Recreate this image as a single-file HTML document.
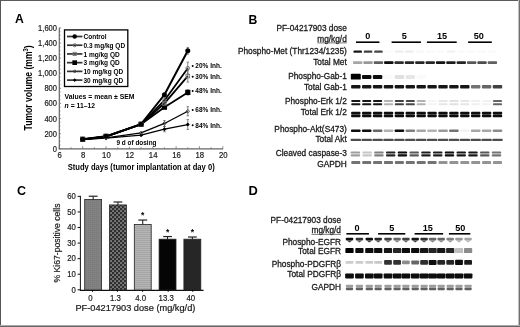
<!DOCTYPE html>
<html><head><meta charset="utf-8"><title>PF-04217903 figure</title><style>
html,body{margin:0;padding:0;background:#fff}
body{width:520px;height:327px;overflow:hidden}
svg{display:block;will-change:transform}
text{font-family:"Liberation Sans",sans-serif}
.h{stroke:#1a1a1a;stroke-width:0.3px}
.h2{stroke:#1a1a1a;stroke-width:0.2px}
</style></head><body>
<svg width="520" height="327" viewBox="0 0 520 327">
<defs>
<filter id="bl" x="-10%" y="-50%" width="120%" height="200%"><feGaussianBlur stdDeviation="0.55"/></filter>
<pattern id="p1" width="2" height="2" patternUnits="userSpaceOnUse"><rect width="2" height="2" fill="#828282"/><rect width="1" height="1" fill="#787878"/></pattern>
<pattern id="p2" x="84" y="190" width="4" height="4" patternUnits="userSpaceOnUse"><rect width="4" height="4" fill="#2e2e2e"/><rect x="0.3" y="0.3" width="1.5" height="1.5" fill="#a8a8a8"/><rect x="2.3" y="2.3" width="1.5" height="1.5" fill="#a8a8a8"/></pattern>
<pattern id="p3" width="2" height="2" patternUnits="userSpaceOnUse"><rect width="2" height="2" fill="#b4b4b4"/><rect width="2" height="1" fill="#a6a6a6"/></pattern>
</defs>
<rect width="520" height="327" fill="#fff"/>
<text x="15.00" y="23.40" font-size="12.2" font-weight="bold" >A</text>
<line x1="59.30" y1="27.84" x2="59.30" y2="148.80" stroke="#666" stroke-width="1.2" />
<line x1="59.30" y1="148.80" x2="61.10" y2="148.80" stroke="#666" stroke-width="0.7" />
<line x1="59.30" y1="145.02" x2="60.50" y2="145.02" stroke="#666" stroke-width="0.7" />
<line x1="59.30" y1="141.24" x2="60.50" y2="141.24" stroke="#666" stroke-width="0.7" />
<line x1="59.30" y1="137.46" x2="60.50" y2="137.46" stroke="#666" stroke-width="0.7" />
<line x1="59.30" y1="133.68" x2="61.10" y2="133.68" stroke="#666" stroke-width="0.7" />
<line x1="59.30" y1="129.90" x2="60.50" y2="129.90" stroke="#666" stroke-width="0.7" />
<line x1="59.30" y1="126.12" x2="60.50" y2="126.12" stroke="#666" stroke-width="0.7" />
<line x1="59.30" y1="122.34" x2="60.50" y2="122.34" stroke="#666" stroke-width="0.7" />
<line x1="59.30" y1="118.56" x2="61.10" y2="118.56" stroke="#666" stroke-width="0.7" />
<line x1="59.30" y1="114.78" x2="60.50" y2="114.78" stroke="#666" stroke-width="0.7" />
<line x1="59.30" y1="111.00" x2="60.50" y2="111.00" stroke="#666" stroke-width="0.7" />
<line x1="59.30" y1="107.22" x2="60.50" y2="107.22" stroke="#666" stroke-width="0.7" />
<line x1="59.30" y1="103.44" x2="61.10" y2="103.44" stroke="#666" stroke-width="0.7" />
<line x1="59.30" y1="99.66" x2="60.50" y2="99.66" stroke="#666" stroke-width="0.7" />
<line x1="59.30" y1="95.88" x2="60.50" y2="95.88" stroke="#666" stroke-width="0.7" />
<line x1="59.30" y1="92.10" x2="60.50" y2="92.10" stroke="#666" stroke-width="0.7" />
<line x1="59.30" y1="88.32" x2="61.10" y2="88.32" stroke="#666" stroke-width="0.7" />
<line x1="59.30" y1="84.54" x2="60.50" y2="84.54" stroke="#666" stroke-width="0.7" />
<line x1="59.30" y1="80.76" x2="60.50" y2="80.76" stroke="#666" stroke-width="0.7" />
<line x1="59.30" y1="76.98" x2="60.50" y2="76.98" stroke="#666" stroke-width="0.7" />
<line x1="59.30" y1="73.20" x2="61.10" y2="73.20" stroke="#666" stroke-width="0.7" />
<line x1="59.30" y1="69.42" x2="60.50" y2="69.42" stroke="#666" stroke-width="0.7" />
<line x1="59.30" y1="65.64" x2="60.50" y2="65.64" stroke="#666" stroke-width="0.7" />
<line x1="59.30" y1="61.86" x2="60.50" y2="61.86" stroke="#666" stroke-width="0.7" />
<line x1="59.30" y1="58.08" x2="61.10" y2="58.08" stroke="#666" stroke-width="0.7" />
<line x1="59.30" y1="54.30" x2="60.50" y2="54.30" stroke="#666" stroke-width="0.7" />
<line x1="59.30" y1="50.52" x2="60.50" y2="50.52" stroke="#666" stroke-width="0.7" />
<line x1="59.30" y1="46.74" x2="60.50" y2="46.74" stroke="#666" stroke-width="0.7" />
<line x1="59.30" y1="42.96" x2="61.10" y2="42.96" stroke="#666" stroke-width="0.7" />
<line x1="59.30" y1="39.18" x2="60.50" y2="39.18" stroke="#666" stroke-width="0.7" />
<line x1="59.30" y1="35.40" x2="60.50" y2="35.40" stroke="#666" stroke-width="0.7" />
<line x1="59.30" y1="31.62" x2="60.50" y2="31.62" stroke="#666" stroke-width="0.7" />
<line x1="59.30" y1="27.84" x2="61.10" y2="27.84" stroke="#666" stroke-width="0.7" />
<text x="57.00" y="151.80" font-size="8.4" class="h2" text-anchor="end" textLength="4.20" lengthAdjust="spacingAndGlyphs" fill="#1a1a1a" >0</text>
<text x="57.00" y="136.68" font-size="8.4" class="h2" text-anchor="end" textLength="12.61" lengthAdjust="spacingAndGlyphs" fill="#1a1a1a" >200</text>
<text x="57.00" y="121.56" font-size="8.4" class="h2" text-anchor="end" textLength="12.61" lengthAdjust="spacingAndGlyphs" fill="#1a1a1a" >400</text>
<text x="57.00" y="106.44" font-size="8.4" class="h2" text-anchor="end" textLength="12.61" lengthAdjust="spacingAndGlyphs" fill="#1a1a1a" >600</text>
<text x="57.00" y="91.32" font-size="8.4" class="h2" text-anchor="end" textLength="12.61" lengthAdjust="spacingAndGlyphs" fill="#1a1a1a" >800</text>
<text x="57.00" y="76.20" font-size="8.4" class="h2" text-anchor="end" textLength="18.92" lengthAdjust="spacingAndGlyphs" fill="#1a1a1a" >1,000</text>
<text x="57.00" y="61.08" font-size="8.4" class="h2" text-anchor="end" textLength="18.92" lengthAdjust="spacingAndGlyphs" fill="#1a1a1a" >1,200</text>
<text x="57.00" y="45.96" font-size="8.4" class="h2" text-anchor="end" textLength="18.92" lengthAdjust="spacingAndGlyphs" fill="#1a1a1a" >1,400</text>
<text x="57.00" y="30.84" font-size="8.4" class="h2" text-anchor="end" textLength="18.92" lengthAdjust="spacingAndGlyphs" fill="#1a1a1a" >1,600</text>
<line x1="58.70" y1="148.80" x2="223.12" y2="148.80" stroke="#666" stroke-width="1.3" />
<line x1="59.30" y1="148.80" x2="59.30" y2="146.20" stroke="#666" stroke-width="0.7" />
<line x1="70.98" y1="148.80" x2="70.98" y2="147.20" stroke="#666" stroke-width="0.7" />
<line x1="82.66" y1="148.80" x2="82.66" y2="146.20" stroke="#666" stroke-width="0.7" />
<line x1="94.34" y1="148.80" x2="94.34" y2="147.20" stroke="#666" stroke-width="0.7" />
<line x1="106.02" y1="148.80" x2="106.02" y2="146.20" stroke="#666" stroke-width="0.7" />
<line x1="117.70" y1="148.80" x2="117.70" y2="147.20" stroke="#666" stroke-width="0.7" />
<line x1="129.38" y1="148.80" x2="129.38" y2="146.20" stroke="#666" stroke-width="0.7" />
<line x1="141.06" y1="148.80" x2="141.06" y2="147.20" stroke="#666" stroke-width="0.7" />
<line x1="152.74" y1="148.80" x2="152.74" y2="146.20" stroke="#666" stroke-width="0.7" />
<line x1="164.42" y1="148.80" x2="164.42" y2="147.20" stroke="#666" stroke-width="0.7" />
<line x1="176.10" y1="148.80" x2="176.10" y2="146.20" stroke="#666" stroke-width="0.7" />
<line x1="187.78" y1="148.80" x2="187.78" y2="147.20" stroke="#666" stroke-width="0.7" />
<line x1="199.46" y1="148.80" x2="199.46" y2="146.20" stroke="#666" stroke-width="0.7" />
<line x1="211.14" y1="148.80" x2="211.14" y2="147.20" stroke="#666" stroke-width="0.7" />
<line x1="222.82" y1="148.80" x2="222.82" y2="146.20" stroke="#666" stroke-width="0.7" />
<text x="59.70" y="158.20" font-size="8.6" class="h2" text-anchor="middle" textLength="4.30" lengthAdjust="spacingAndGlyphs" fill="#1a1a1a" >6</text>
<text x="83.06" y="158.20" font-size="8.6" class="h2" text-anchor="middle" textLength="4.30" lengthAdjust="spacingAndGlyphs" fill="#1a1a1a" >8</text>
<text x="106.42" y="158.20" font-size="8.6" class="h2" text-anchor="middle" textLength="8.61" lengthAdjust="spacingAndGlyphs" fill="#1a1a1a" >10</text>
<text x="129.78" y="158.20" font-size="8.6" class="h2" text-anchor="middle" textLength="8.61" lengthAdjust="spacingAndGlyphs" fill="#1a1a1a" >12</text>
<text x="153.14" y="158.20" font-size="8.6" class="h2" text-anchor="middle" textLength="8.61" lengthAdjust="spacingAndGlyphs" fill="#1a1a1a" >14</text>
<text x="176.50" y="158.20" font-size="8.6" class="h2" text-anchor="middle" textLength="8.61" lengthAdjust="spacingAndGlyphs" fill="#1a1a1a" >16</text>
<text x="199.86" y="158.20" font-size="8.6" class="h2" text-anchor="middle" textLength="8.61" lengthAdjust="spacingAndGlyphs" fill="#1a1a1a" >18</text>
<text x="223.22" y="158.20" font-size="8.6" class="h2" text-anchor="middle" textLength="8.61" lengthAdjust="spacingAndGlyphs" fill="#1a1a1a" >20</text>
<text x="67.70" y="170.40" font-size="8.6" font-weight="bold" textLength="147.00" lengthAdjust="spacingAndGlyphs" >Study days (tumor implantation at day 0)</text>
<text transform="translate(32.4,130.4) rotate(-90)" font-size="10.2" font-weight="bold" textLength="85" lengthAdjust="spacingAndGlyphs">Tumor volume (mm<tspan font-size="6.8" dy="-4">3</tspan><tspan dy="4">)</tspan></text>
<polyline points="82.66,139.27 106.02,138.22 141.06,135.19 164.42,129.14 187.78,124.53" fill="none" stroke="#000" stroke-width="1.3" stroke-linejoin="round"/>
<polyline points="82.66,139.27 106.02,137.84 141.06,132.92 164.42,123.47 187.78,111.23" fill="none" stroke="#000" stroke-width="1.3" stroke-linejoin="round"/>
<polyline points="82.66,139.27 106.02,136.33 141.06,124.23 164.42,107.22 187.78,92.40" fill="none" stroke="#000" stroke-width="1.8" stroke-linejoin="round"/>
<polyline points="82.66,139.27 106.02,136.70 141.06,124.23 164.42,103.44 187.78,76.07" fill="none" stroke="#000" stroke-width="1.8" stroke-linejoin="round"/>
<polyline points="82.66,139.27 106.02,136.70 141.06,124.23 164.42,100.42 187.78,68.21" fill="none" stroke="#000" stroke-width="1.8" stroke-linejoin="round"/>
<polyline points="82.66,139.27 106.02,136.33 141.06,124.23 164.42,94.75 187.78,50.82" fill="none" stroke="#000" stroke-width="2.0" stroke-linejoin="round"/>
<line x1="187.78" y1="47.42" x2="187.78" y2="54.22" stroke="#555" stroke-width="0.7" />
<line x1="186.58" y1="47.42" x2="188.98" y2="47.42" stroke="#555" stroke-width="0.7" />
<line x1="186.58" y1="54.22" x2="188.98" y2="54.22" stroke="#555" stroke-width="0.7" />
<line x1="187.78" y1="62.16" x2="187.78" y2="74.26" stroke="#555" stroke-width="0.7" />
<line x1="186.58" y1="62.16" x2="188.98" y2="62.16" stroke="#555" stroke-width="0.7" />
<line x1="186.58" y1="74.26" x2="188.98" y2="74.26" stroke="#555" stroke-width="0.7" />
<line x1="187.78" y1="70.02" x2="187.78" y2="82.12" stroke="#555" stroke-width="0.7" />
<line x1="186.58" y1="70.02" x2="188.98" y2="70.02" stroke="#555" stroke-width="0.7" />
<line x1="186.58" y1="82.12" x2="188.98" y2="82.12" stroke="#555" stroke-width="0.7" />
<line x1="187.78" y1="89.76" x2="187.78" y2="95.05" stroke="#555" stroke-width="0.7" />
<line x1="186.58" y1="89.76" x2="188.98" y2="89.76" stroke="#555" stroke-width="0.7" />
<line x1="186.58" y1="95.05" x2="188.98" y2="95.05" stroke="#555" stroke-width="0.7" />
<line x1="187.78" y1="106.69" x2="187.78" y2="115.76" stroke="#555" stroke-width="0.7" />
<line x1="186.58" y1="106.69" x2="188.98" y2="106.69" stroke="#555" stroke-width="0.7" />
<line x1="186.58" y1="115.76" x2="188.98" y2="115.76" stroke="#555" stroke-width="0.7" />
<line x1="187.78" y1="119.62" x2="187.78" y2="129.45" stroke="#555" stroke-width="0.7" />
<line x1="186.58" y1="119.62" x2="188.98" y2="119.62" stroke="#555" stroke-width="0.7" />
<line x1="186.58" y1="129.45" x2="188.98" y2="129.45" stroke="#555" stroke-width="0.7" />
<line x1="164.42" y1="120.47" x2="164.42" y2="126.47" stroke="#555" stroke-width="0.7" />
<line x1="163.22" y1="120.47" x2="165.62" y2="120.47" stroke="#555" stroke-width="0.7" />
<line x1="163.22" y1="126.47" x2="165.62" y2="126.47" stroke="#555" stroke-width="0.7" />
<line x1="164.42" y1="126.54" x2="164.42" y2="131.74" stroke="#555" stroke-width="0.7" />
<line x1="163.22" y1="126.54" x2="165.62" y2="126.54" stroke="#555" stroke-width="0.7" />
<line x1="163.22" y1="131.74" x2="165.62" y2="131.74" stroke="#555" stroke-width="0.7" />
<line x1="164.42" y1="96.92" x2="164.42" y2="103.92" stroke="#555" stroke-width="0.7" />
<line x1="163.22" y1="96.92" x2="165.62" y2="96.92" stroke="#555" stroke-width="0.7" />
<line x1="163.22" y1="103.92" x2="165.62" y2="103.92" stroke="#555" stroke-width="0.7" />
<path d="M80.66,139.27L82.66,137.27L84.66,139.27L82.66,141.27Z" fill="#000"/>
<path d="M104.02,138.22L106.02,136.22L108.02,138.22L106.02,140.22Z" fill="#000"/>
<path d="M139.06,135.19L141.06,133.19L143.06,135.19L141.06,137.19Z" fill="#000"/>
<path d="M162.42,129.14L164.42,127.14L166.42,129.14L164.42,131.14Z" fill="#000"/>
<path d="M185.78,124.53L187.78,122.53L189.78,124.53L187.78,126.53Z" fill="#000"/>
<path d="M80.86,139.27L82.66,137.47L84.46,139.27L82.66,141.07Z" fill="none" stroke="#333" stroke-width="0.8"/>
<path d="M104.22,137.84L106.02,136.04L107.82,137.84L106.02,139.64Z" fill="none" stroke="#333" stroke-width="0.8"/>
<path d="M139.26,132.92L141.06,131.12L142.86,132.92L141.06,134.72Z" fill="none" stroke="#333" stroke-width="0.8"/>
<path d="M162.62,123.47L164.42,121.67L166.22,123.47L164.42,125.27Z" fill="none" stroke="#333" stroke-width="0.8"/>
<path d="M185.98,111.23L187.78,109.43L189.58,111.23L187.78,113.03Z" fill="none" stroke="#333" stroke-width="0.8"/>
<rect x="80.06" y="136.67" width="5.20" height="5.20" fill="#000"/>
<rect x="103.42" y="133.73" width="5.20" height="5.20" fill="#000"/>
<rect x="138.46" y="121.63" width="5.20" height="5.20" fill="#000"/>
<rect x="161.82" y="104.62" width="5.20" height="5.20" fill="#000"/>
<rect x="185.18" y="89.80" width="5.20" height="5.20" fill="#000"/>
<rect x="80.86" y="137.47" width="3.60" height="3.60" fill="none" stroke="#777" stroke-width="0.9"/>
<rect x="104.22" y="134.90" width="3.60" height="3.60" fill="none" stroke="#777" stroke-width="0.9"/>
<rect x="139.26" y="122.43" width="3.60" height="3.60" fill="none" stroke="#777" stroke-width="0.9"/>
<rect x="162.62" y="101.64" width="3.60" height="3.60" fill="none" stroke="#777" stroke-width="0.9"/>
<rect x="185.98" y="74.27" width="3.60" height="3.60" fill="none" stroke="#777" stroke-width="0.9"/>
<circle cx="82.66" cy="139.27" r="1.80" fill="none" stroke="#666" stroke-width="0.9"/>
<circle cx="106.02" cy="136.70" r="1.80" fill="none" stroke="#666" stroke-width="0.9"/>
<circle cx="141.06" cy="124.23" r="1.80" fill="none" stroke="#666" stroke-width="0.9"/>
<circle cx="164.42" cy="100.42" r="1.80" fill="none" stroke="#666" stroke-width="0.9"/>
<circle cx="187.78" cy="68.21" r="1.80" fill="none" stroke="#666" stroke-width="0.9"/>
<circle cx="82.66" cy="139.27" r="2.50" fill="#000"/>
<circle cx="106.02" cy="136.33" r="2.50" fill="#000"/>
<circle cx="141.06" cy="124.23" r="2.50" fill="#000"/>
<circle cx="164.42" cy="94.75" r="2.50" fill="#000"/>
<circle cx="187.78" cy="50.82" r="2.50" fill="#000"/>
<rect x="115.50" y="139.50" width="42.00" height="7.00" fill="#fff" />
<text x="116.50" y="144.80" font-size="7" font-weight="bold" textLength="40.00" lengthAdjust="spacingAndGlyphs" >9 d of dosing</text>
<rect x="64.5" y="29.9" width="63.3" height="56.6" fill="#fff" stroke="#000" stroke-width="1.3"/>
<line x1="67.00" y1="36.50" x2="82.40" y2="36.50" stroke="#333" stroke-width="1.7" />
<circle cx="74.70" cy="36.50" r="2.25" fill="#000"/>
<text x="83.50" y="39.10" font-size="7.4" font-weight="bold" textLength="23.15" lengthAdjust="spacingAndGlyphs" >Control</text>
<line x1="67.00" y1="45.22" x2="82.40" y2="45.22" stroke="#333" stroke-width="1.7" />
<circle cx="74.70" cy="45.22" r="1.62" fill="none" stroke="#666" stroke-width="0.9"/>
<text x="83.50" y="47.82" font-size="7.4" font-weight="bold" textLength="41.61" lengthAdjust="spacingAndGlyphs" >0.3 mg/kg QD</text>
<line x1="67.00" y1="53.94" x2="82.40" y2="53.94" stroke="#333" stroke-width="1.7" />
<rect x="73.08" y="52.32" width="3.24" height="3.24" fill="none" stroke="#777" stroke-width="0.9"/>
<text x="83.50" y="56.54" font-size="7.4" font-weight="bold" textLength="36.18" lengthAdjust="spacingAndGlyphs" >1 mg/kg QD</text>
<line x1="67.00" y1="62.66" x2="82.40" y2="62.66" stroke="#333" stroke-width="1.7" />
<rect x="72.36" y="60.32" width="4.68" height="4.68" fill="#000"/>
<text x="83.50" y="65.26" font-size="7.4" font-weight="bold" textLength="36.18" lengthAdjust="spacingAndGlyphs" >3 mg/kg QD</text>
<line x1="67.00" y1="71.38" x2="82.40" y2="71.38" stroke="#333" stroke-width="1.7" />
<path d="M73.08,71.38L74.70,69.76L76.32,71.38L74.70,73.00Z" fill="none" stroke="#333" stroke-width="0.8"/>
<text x="83.50" y="73.98" font-size="7.4" font-weight="bold" textLength="39.80" lengthAdjust="spacingAndGlyphs" >10 mg/kg QD</text>
<line x1="67.00" y1="80.10" x2="82.40" y2="80.10" stroke="#333" stroke-width="1.7" />
<path d="M72.90,80.10L74.70,78.30L76.50,80.10L74.70,81.90Z" fill="#000"/>
<text x="83.50" y="82.70" font-size="7.4" font-weight="bold" textLength="39.80" lengthAdjust="spacingAndGlyphs" >30 mg/kg QD</text>
<text x="64.60" y="99.00" font-size="8.0" font-weight="bold" textLength="70.00" lengthAdjust="spacingAndGlyphs" >Values = mean ± SEM</text>
<text x="64.6" y="108.0" font-size="8.0" font-weight="bold" textLength="30.4" lengthAdjust="spacingAndGlyphs"><tspan font-style="italic">n</tspan> = 11–12</text>
<circle cx="192.7" cy="66.00" r="1.0" fill="#000"/>
<text x="195.30" y="68.20" font-size="7.6" font-weight="bold" textLength="26.40" lengthAdjust="spacingAndGlyphs" >20% Inh.</text>
<circle cx="192.7" cy="76.70" r="1.0" fill="#000"/>
<text x="195.30" y="78.90" font-size="7.6" font-weight="bold" textLength="26.40" lengthAdjust="spacingAndGlyphs" >30% Inh.</text>
<circle cx="192.7" cy="91.00" r="1.0" fill="#000"/>
<text x="195.30" y="93.20" font-size="7.6" font-weight="bold" textLength="26.40" lengthAdjust="spacingAndGlyphs" >48% Inh.</text>
<circle cx="192.7" cy="109.90" r="1.0" fill="#000"/>
<text x="195.30" y="112.10" font-size="7.6" font-weight="bold" textLength="26.40" lengthAdjust="spacingAndGlyphs" >68% Inh.</text>
<circle cx="192.7" cy="125.30" r="1.0" fill="#000"/>
<text x="195.30" y="127.50" font-size="7.6" font-weight="bold" textLength="26.40" lengthAdjust="spacingAndGlyphs" >84% Inh.</text>
<text x="17.10" y="194.60" font-size="12.5" font-weight="bold" >C</text>
<line x1="80.40" y1="195.88" x2="80.40" y2="290.60" stroke="#111" stroke-width="1" />
<line x1="79.90" y1="290.30" x2="203.60" y2="290.30" stroke="#111" stroke-width="1.2" />
<line x1="77.60" y1="289.80" x2="80.40" y2="289.80" stroke="#111" stroke-width="1" />
<text x="75.80" y="292.60" font-size="9" class="h2" text-anchor="end" textLength="4.30" lengthAdjust="spacingAndGlyphs" fill="#1a1a1a" >0</text>
<line x1="77.60" y1="274.23" x2="80.40" y2="274.23" stroke="#111" stroke-width="1" />
<text x="75.80" y="277.03" font-size="9" class="h2" text-anchor="end" textLength="8.61" lengthAdjust="spacingAndGlyphs" fill="#1a1a1a" >10</text>
<line x1="77.60" y1="258.66" x2="80.40" y2="258.66" stroke="#111" stroke-width="1" />
<text x="75.80" y="261.46" font-size="9" class="h2" text-anchor="end" textLength="8.61" lengthAdjust="spacingAndGlyphs" fill="#1a1a1a" >20</text>
<line x1="77.60" y1="243.09" x2="80.40" y2="243.09" stroke="#111" stroke-width="1" />
<text x="75.80" y="245.89" font-size="9" class="h2" text-anchor="end" textLength="8.61" lengthAdjust="spacingAndGlyphs" fill="#1a1a1a" >30</text>
<line x1="77.60" y1="227.52" x2="80.40" y2="227.52" stroke="#111" stroke-width="1" />
<text x="75.80" y="230.32" font-size="9" class="h2" text-anchor="end" textLength="8.61" lengthAdjust="spacingAndGlyphs" fill="#1a1a1a" >40</text>
<line x1="77.60" y1="211.95" x2="80.40" y2="211.95" stroke="#111" stroke-width="1" />
<text x="75.80" y="214.75" font-size="9" class="h2" text-anchor="end" textLength="8.61" lengthAdjust="spacingAndGlyphs" fill="#1a1a1a" >50</text>
<line x1="77.60" y1="196.38" x2="80.40" y2="196.38" stroke="#111" stroke-width="1" />
<text x="75.80" y="199.18" font-size="9" class="h2" text-anchor="end" textLength="8.61" lengthAdjust="spacingAndGlyphs" fill="#1a1a1a" >60</text>
<text transform="translate(60.0,243.0) rotate(-90)" font-size="8.9" class="h2" text-anchor="middle" textLength="79" lengthAdjust="spacingAndGlyphs" fill="#222">% Ki67-positive cells</text>
<rect x="84.70" y="199.49" width="16.9" height="90.51" fill="url(#p1)" stroke="#222" stroke-width="0.8"/>
<line x1="93.15" y1="196.22" x2="93.15" y2="199.49" stroke="#111" stroke-width="1" />
<line x1="88.75" y1="196.22" x2="97.55" y2="196.22" stroke="#222" stroke-width="1.2" />
<rect x="109.50" y="204.94" width="16.9" height="85.06" fill="url(#p2)" stroke="#222" stroke-width="0.8"/>
<line x1="117.95" y1="201.99" x2="117.95" y2="204.94" stroke="#111" stroke-width="1" />
<line x1="113.55" y1="201.99" x2="122.35" y2="201.99" stroke="#222" stroke-width="1.2" />
<rect x="134.30" y="224.41" width="16.9" height="65.59" fill="url(#p3)" stroke="#222" stroke-width="0.8"/>
<line x1="142.75" y1="220.05" x2="142.75" y2="224.41" stroke="#111" stroke-width="1" />
<line x1="138.35" y1="220.05" x2="147.15" y2="220.05" stroke="#222" stroke-width="1.2" />
<rect x="159.10" y="239.20" width="16.9" height="50.80" fill="#050505" stroke="#222" stroke-width="0.8"/>
<line x1="167.55" y1="236.55" x2="167.55" y2="239.20" stroke="#111" stroke-width="1" />
<line x1="163.15" y1="236.55" x2="171.95" y2="236.55" stroke="#222" stroke-width="1.2" />
<rect x="183.90" y="239.20" width="16.9" height="50.80" fill="#262626" stroke="#222" stroke-width="0.8"/>
<line x1="192.35" y1="237.02" x2="192.35" y2="239.20" stroke="#111" stroke-width="1" />
<line x1="187.95" y1="237.02" x2="196.75" y2="237.02" stroke="#222" stroke-width="1.2" />
<text x="142.75" y="218.20" font-size="8.5" font-weight="bold" text-anchor="middle" >*</text>
<text x="167.55" y="235.20" font-size="8.5" font-weight="bold" text-anchor="middle" >*</text>
<text x="192.35" y="235.20" font-size="8.5" font-weight="bold" text-anchor="middle" >*</text>
<line x1="92.50" y1="290.00" x2="92.50" y2="292.00" stroke="#000" stroke-width="0.8" />
<text x="90.50" y="300.60" font-size="9" class="h2" text-anchor="middle" textLength="4.35" lengthAdjust="spacingAndGlyphs" fill="#1a1a1a" >0</text>
<line x1="117.40" y1="290.00" x2="117.40" y2="292.00" stroke="#000" stroke-width="0.8" />
<text x="115.40" y="300.60" font-size="9" class="h2" text-anchor="middle" textLength="10.88" lengthAdjust="spacingAndGlyphs" fill="#1a1a1a" >1.3</text>
<line x1="142.60" y1="290.00" x2="142.60" y2="292.00" stroke="#000" stroke-width="0.8" />
<text x="140.60" y="300.60" font-size="9" class="h2" text-anchor="middle" textLength="10.88" lengthAdjust="spacingAndGlyphs" fill="#1a1a1a" >4.0</text>
<line x1="168.20" y1="290.00" x2="168.20" y2="292.00" stroke="#000" stroke-width="0.8" />
<text x="166.20" y="300.60" font-size="9" class="h2" text-anchor="middle" textLength="15.24" lengthAdjust="spacingAndGlyphs" fill="#1a1a1a" >13.3</text>
<line x1="192.80" y1="290.00" x2="192.80" y2="292.00" stroke="#000" stroke-width="0.8" />
<text x="190.80" y="300.60" font-size="9" class="h2" text-anchor="middle" textLength="8.71" lengthAdjust="spacingAndGlyphs" fill="#1a1a1a" >40</text>
<text x="75.40" y="311.40" font-size="8.9" class="h2" textLength="120.00" lengthAdjust="spacingAndGlyphs" fill="#1a1a1a" >PF-04217903  dose (mg/kg/d)</text>
<text x="248.60" y="24.00" font-size="12.2" font-weight="bold" >B</text>
<text x="346.80" y="31.00" font-size="8.8" class="h" text-anchor="end" textLength="70.40" lengthAdjust="spacingAndGlyphs" fill="#1a1a1a" >PF-04217903 dose</text>
<text x="346.80" y="42.20" font-size="8.8" class="h" text-anchor="end" textLength="29.52" lengthAdjust="spacingAndGlyphs" fill="#1a1a1a" >mg/kg/d</text>
<line x1="317.30" y1="42.90" x2="346.80" y2="42.90" stroke="#444" stroke-width="0.7" />
<text x="367.70" y="38.90" font-size="9.6" font-weight="bold" text-anchor="middle" textLength="5.07" lengthAdjust="spacingAndGlyphs" >0</text>
<line x1="356.00" y1="42.20" x2="379.40" y2="42.20" stroke="#000" stroke-width="1.6" />
<text x="404.40" y="38.90" font-size="9.6" font-weight="bold" text-anchor="middle" textLength="5.07" lengthAdjust="spacingAndGlyphs" >5</text>
<line x1="391.60" y1="42.20" x2="421.00" y2="42.20" stroke="#000" stroke-width="1.6" />
<text x="442.10" y="38.90" font-size="9.6" font-weight="bold" text-anchor="middle" textLength="10.14" lengthAdjust="spacingAndGlyphs" >15</text>
<line x1="426.90" y1="42.20" x2="456.70" y2="42.20" stroke="#000" stroke-width="1.6" />
<text x="478.80" y="38.90" font-size="9.6" font-weight="bold" text-anchor="middle" textLength="10.14" lengthAdjust="spacingAndGlyphs" >50</text>
<line x1="468.10" y1="42.20" x2="491.80" y2="42.20" stroke="#000" stroke-width="1.6" />
<text x="346.80" y="54.30" font-size="8.8" class="h" text-anchor="end" textLength="108.88" lengthAdjust="spacingAndGlyphs" fill="#1a1a1a" >Phospho-Met (Thr1234/1235)</text>
<text x="346.80" y="65.30" font-size="8.8" class="h" text-anchor="end" textLength="33.67" lengthAdjust="spacingAndGlyphs" fill="#1a1a1a" >Total Met</text>
<text x="346.80" y="79.40" font-size="8.8" class="h" text-anchor="end" textLength="58.59" lengthAdjust="spacingAndGlyphs" fill="#1a1a1a" >Phospho-Gab-1</text>
<text x="346.80" y="89.70" font-size="8.8" class="h" text-anchor="end" textLength="42.90" lengthAdjust="spacingAndGlyphs" fill="#1a1a1a" >Total Gab-1</text>
<text x="346.80" y="104.30" font-size="8.8" class="h" text-anchor="end" textLength="61.82" lengthAdjust="spacingAndGlyphs" fill="#1a1a1a" >Phospho-Erk 1/2</text>
<text x="346.80" y="115.10" font-size="8.8" class="h" text-anchor="end" textLength="46.13" lengthAdjust="spacingAndGlyphs" fill="#1a1a1a" >Total Erk 1/2</text>
<text x="346.80" y="132.30" font-size="8.8" class="h" text-anchor="end" textLength="72.43" lengthAdjust="spacingAndGlyphs" fill="#1a1a1a" >Phospho-Akt(S473)</text>
<text x="346.80" y="142.30" font-size="8.8" class="h" text-anchor="end" textLength="31.37" lengthAdjust="spacingAndGlyphs" fill="#1a1a1a" >Total Akt</text>
<text x="346.80" y="156.00" font-size="8.8" class="h" text-anchor="end" textLength="71.05" lengthAdjust="spacingAndGlyphs" fill="#1a1a1a" >Cleaved caspase-3</text>
<text x="346.80" y="166.80" font-size="8.8" class="h" text-anchor="end" textLength="29.52" lengthAdjust="spacingAndGlyphs" fill="#1a1a1a" >GAPDH</text>
<g filter="url(#bl)">
<rect x="353.45" y="50.40" width="8.50" height="2.40" rx="0.90" fill="rgb(25,25,25)"/>
<rect x="363.81" y="50.40" width="8.50" height="2.40" rx="0.90" fill="rgb(64,64,64)"/>
<rect x="374.17" y="50.40" width="8.50" height="2.40" rx="0.90" fill="rgb(71,71,71)"/>
<rect x="384.53" y="50.40" width="8.50" height="2.40" rx="0.90" fill="rgb(250,250,250)"/>
<rect x="394.89" y="50.40" width="8.50" height="2.40" rx="0.90" fill="rgb(237,237,237)"/>
<rect x="405.25" y="50.40" width="8.50" height="2.40" rx="0.90" fill="rgb(237,237,237)"/>
<rect x="415.61" y="50.40" width="8.50" height="2.40" rx="0.90" fill="rgb(247,247,247)"/>
<rect x="425.97" y="50.40" width="8.50" height="2.40" rx="0.90" fill="rgb(250,250,250)"/>
<rect x="436.33" y="50.40" width="8.50" height="2.40" rx="0.90" fill="rgb(250,250,250)"/>
<rect x="446.69" y="50.40" width="8.50" height="2.40" rx="0.90" fill="rgb(242,242,242)"/>
<rect x="457.05" y="50.40" width="8.50" height="2.40" rx="0.90" fill="rgb(250,250,250)"/>
<rect x="467.41" y="50.40" width="8.50" height="2.40" rx="0.90" fill="rgb(250,250,250)"/>
<rect x="477.77" y="50.40" width="8.50" height="2.40" rx="0.90" fill="rgb(250,250,250)"/>
<rect x="488.13" y="50.40" width="8.50" height="2.40" rx="0.90" fill="rgb(250,250,250)"/>
<rect x="353.00" y="61.20" width="9.40" height="2.80" rx="0.90" fill="rgb(166,166,166)"/>
<rect x="363.36" y="61.20" width="9.40" height="2.80" rx="0.90" fill="rgb(153,153,153)"/>
<rect x="373.72" y="61.20" width="9.40" height="2.80" rx="0.90" fill="rgb(97,97,97)"/>
<rect x="384.08" y="61.20" width="9.40" height="2.80" rx="0.90" fill="rgb(8,8,8)"/>
<rect x="394.44" y="61.20" width="9.40" height="2.80" rx="0.90" fill="rgb(46,46,46)"/>
<rect x="404.80" y="61.20" width="9.40" height="2.80" rx="0.90" fill="rgb(38,38,38)"/>
<rect x="415.16" y="61.20" width="9.40" height="2.80" rx="0.90" fill="rgb(38,38,38)"/>
<rect x="425.52" y="61.20" width="9.40" height="2.80" rx="0.90" fill="rgb(38,38,38)"/>
<rect x="435.88" y="61.20" width="9.40" height="2.80" rx="0.90" fill="rgb(20,20,20)"/>
<rect x="446.24" y="61.20" width="9.40" height="2.80" rx="0.90" fill="rgb(31,31,31)"/>
<rect x="456.60" y="61.20" width="9.40" height="2.80" rx="0.90" fill="rgb(38,38,38)"/>
<rect x="466.96" y="61.20" width="9.40" height="2.80" rx="0.90" fill="rgb(89,89,89)"/>
<rect x="477.32" y="61.20" width="9.40" height="2.80" rx="0.90" fill="rgb(77,77,77)"/>
<rect x="487.68" y="61.20" width="9.40" height="2.80" rx="0.90" fill="rgb(97,97,97)"/>
<rect x="350.80" y="73.80" width="10.00" height="5.80" rx="0.90" fill="rgb(0,0,0)"/>
<rect x="362.00" y="75.10" width="9.40" height="3.80" rx="0.90" fill="rgb(13,13,13)"/>
<rect x="372.90" y="75.10" width="9.40" height="3.80" rx="0.90" fill="rgb(13,13,13)"/>
<rect x="383.80" y="75.10" width="9.40" height="3.80" rx="0.90" fill="rgb(250,250,250)"/>
<rect x="394.70" y="75.10" width="9.40" height="3.80" rx="0.90" fill="rgb(224,224,224)"/>
<rect x="405.60" y="75.10" width="9.40" height="3.80" rx="0.90" fill="rgb(230,230,230)"/>
<rect x="416.50" y="75.10" width="9.40" height="3.80" rx="0.90" fill="rgb(250,250,250)"/>
<rect x="351.10" y="84.90" width="9.40" height="3.60" rx="0.90" fill="rgb(25,25,25)"/>
<rect x="362.00" y="84.90" width="9.40" height="3.60" rx="0.90" fill="rgb(25,25,25)"/>
<rect x="372.90" y="84.90" width="9.40" height="3.60" rx="0.90" fill="rgb(25,25,25)"/>
<rect x="383.80" y="84.90" width="9.40" height="3.60" rx="0.90" fill="rgb(25,25,25)"/>
<rect x="394.70" y="84.90" width="9.40" height="3.60" rx="0.90" fill="rgb(25,25,25)"/>
<rect x="405.60" y="84.90" width="9.40" height="3.60" rx="0.90" fill="rgb(25,25,25)"/>
<rect x="416.50" y="84.90" width="9.40" height="3.60" rx="0.90" fill="rgb(25,25,25)"/>
<rect x="427.40" y="84.90" width="9.40" height="3.60" rx="0.90" fill="rgb(25,25,25)"/>
<rect x="438.30" y="84.90" width="9.40" height="3.60" rx="0.90" fill="rgb(25,25,25)"/>
<rect x="449.20" y="84.90" width="9.40" height="3.60" rx="0.90" fill="rgb(25,25,25)"/>
<rect x="460.10" y="84.90" width="9.40" height="3.60" rx="0.90" fill="rgb(25,25,25)"/>
<rect x="471.00" y="84.90" width="9.40" height="3.60" rx="0.90" fill="rgb(115,115,115)"/>
<rect x="481.90" y="84.90" width="9.40" height="3.60" rx="0.90" fill="rgb(102,102,102)"/>
<rect x="492.80" y="84.90" width="9.40" height="3.60" rx="0.90" fill="rgb(64,64,64)"/>
<rect x="351.20" y="100.05" width="9.20" height="1.90" rx="0.90" fill="rgb(20,20,20)"/>
<rect x="351.20" y="103.25" width="9.20" height="1.90" rx="0.90" fill="rgb(20,20,20)"/>
<rect x="362.10" y="100.05" width="9.20" height="1.90" rx="0.90" fill="rgb(20,20,20)"/>
<rect x="362.10" y="103.25" width="9.20" height="1.90" rx="0.90" fill="rgb(20,20,20)"/>
<rect x="373.00" y="100.05" width="9.20" height="1.90" rx="0.90" fill="rgb(20,20,20)"/>
<rect x="373.00" y="103.25" width="9.20" height="1.90" rx="0.90" fill="rgb(20,20,20)"/>
<rect x="383.90" y="100.05" width="9.20" height="1.90" rx="0.90" fill="rgb(178,178,178)"/>
<rect x="383.90" y="103.25" width="9.20" height="1.90" rx="0.90" fill="rgb(178,178,178)"/>
<rect x="394.80" y="100.05" width="9.20" height="1.90" rx="0.90" fill="rgb(64,64,64)"/>
<rect x="394.80" y="103.25" width="9.20" height="1.90" rx="0.90" fill="rgb(64,64,64)"/>
<rect x="405.70" y="100.05" width="9.20" height="1.90" rx="0.90" fill="rgb(71,71,71)"/>
<rect x="405.70" y="103.25" width="9.20" height="1.90" rx="0.90" fill="rgb(71,71,71)"/>
<rect x="416.60" y="100.05" width="9.20" height="1.90" rx="0.90" fill="rgb(178,178,178)"/>
<rect x="416.60" y="103.25" width="9.20" height="1.90" rx="0.90" fill="rgb(178,178,178)"/>
<rect x="427.50" y="100.05" width="9.20" height="1.90" rx="0.90" fill="rgb(245,245,245)"/>
<rect x="427.50" y="103.25" width="9.20" height="1.90" rx="0.90" fill="rgb(245,245,245)"/>
<rect x="438.40" y="100.05" width="9.20" height="1.90" rx="0.90" fill="rgb(230,230,230)"/>
<rect x="438.40" y="103.25" width="9.20" height="1.90" rx="0.90" fill="rgb(230,230,230)"/>
<rect x="449.30" y="100.05" width="9.20" height="1.90" rx="0.90" fill="rgb(224,224,224)"/>
<rect x="449.30" y="103.25" width="9.20" height="1.90" rx="0.90" fill="rgb(224,224,224)"/>
<rect x="460.20" y="100.05" width="9.20" height="1.90" rx="0.90" fill="rgb(230,230,230)"/>
<rect x="460.20" y="103.25" width="9.20" height="1.90" rx="0.90" fill="rgb(230,230,230)"/>
<rect x="471.10" y="100.05" width="9.20" height="1.90" rx="0.90" fill="rgb(240,240,240)"/>
<rect x="471.10" y="103.25" width="9.20" height="1.90" rx="0.90" fill="rgb(240,240,240)"/>
<rect x="482.00" y="100.05" width="9.20" height="1.90" rx="0.90" fill="rgb(242,242,242)"/>
<rect x="482.00" y="103.25" width="9.20" height="1.90" rx="0.90" fill="rgb(242,242,242)"/>
<rect x="492.90" y="100.05" width="9.20" height="1.90" rx="0.90" fill="rgb(102,102,102)"/>
<rect x="492.90" y="103.25" width="9.20" height="1.90" rx="0.90" fill="rgb(102,102,102)"/>
<rect x="351.10" y="111.80" width="9.40" height="2.60" rx="0.90" fill="rgb(13,13,13)"/>
<rect x="351.10" y="114.60" width="9.40" height="2.60" rx="0.90" fill="rgb(13,13,13)"/>
<rect x="362.00" y="111.80" width="9.40" height="2.60" rx="0.90" fill="rgb(13,13,13)"/>
<rect x="362.00" y="114.60" width="9.40" height="2.60" rx="0.90" fill="rgb(13,13,13)"/>
<rect x="372.90" y="111.80" width="9.40" height="2.60" rx="0.90" fill="rgb(13,13,13)"/>
<rect x="372.90" y="114.60" width="9.40" height="2.60" rx="0.90" fill="rgb(13,13,13)"/>
<rect x="383.80" y="111.80" width="9.40" height="2.60" rx="0.90" fill="rgb(13,13,13)"/>
<rect x="383.80" y="114.60" width="9.40" height="2.60" rx="0.90" fill="rgb(13,13,13)"/>
<rect x="394.70" y="111.80" width="9.40" height="2.60" rx="0.90" fill="rgb(13,13,13)"/>
<rect x="394.70" y="114.60" width="9.40" height="2.60" rx="0.90" fill="rgb(13,13,13)"/>
<rect x="405.60" y="111.80" width="9.40" height="2.60" rx="0.90" fill="rgb(13,13,13)"/>
<rect x="405.60" y="114.60" width="9.40" height="2.60" rx="0.90" fill="rgb(13,13,13)"/>
<rect x="416.50" y="111.80" width="9.40" height="2.60" rx="0.90" fill="rgb(13,13,13)"/>
<rect x="416.50" y="114.60" width="9.40" height="2.60" rx="0.90" fill="rgb(13,13,13)"/>
<rect x="427.40" y="111.80" width="9.40" height="2.60" rx="0.90" fill="rgb(13,13,13)"/>
<rect x="427.40" y="114.60" width="9.40" height="2.60" rx="0.90" fill="rgb(13,13,13)"/>
<rect x="438.30" y="111.80" width="9.40" height="2.60" rx="0.90" fill="rgb(13,13,13)"/>
<rect x="438.30" y="114.60" width="9.40" height="2.60" rx="0.90" fill="rgb(13,13,13)"/>
<rect x="449.20" y="111.80" width="9.40" height="2.60" rx="0.90" fill="rgb(13,13,13)"/>
<rect x="449.20" y="114.60" width="9.40" height="2.60" rx="0.90" fill="rgb(13,13,13)"/>
<rect x="460.10" y="111.80" width="9.40" height="2.60" rx="0.90" fill="rgb(13,13,13)"/>
<rect x="460.10" y="114.60" width="9.40" height="2.60" rx="0.90" fill="rgb(13,13,13)"/>
<rect x="471.00" y="111.80" width="9.40" height="2.60" rx="0.90" fill="rgb(13,13,13)"/>
<rect x="471.00" y="114.60" width="9.40" height="2.60" rx="0.90" fill="rgb(13,13,13)"/>
<rect x="481.90" y="111.80" width="9.40" height="2.60" rx="0.90" fill="rgb(13,13,13)"/>
<rect x="481.90" y="114.60" width="9.40" height="2.60" rx="0.90" fill="rgb(13,13,13)"/>
<rect x="492.80" y="111.80" width="9.40" height="2.60" rx="0.90" fill="rgb(13,13,13)"/>
<rect x="492.80" y="114.60" width="9.40" height="2.60" rx="0.90" fill="rgb(13,13,13)"/>
<rect x="351.00" y="129.40" width="9.60" height="2.60" rx="0.90" fill="rgb(8,8,8)"/>
<rect x="361.90" y="129.40" width="9.60" height="2.60" rx="0.90" fill="rgb(13,13,13)"/>
<rect x="372.80" y="129.40" width="9.60" height="2.60" rx="0.90" fill="rgb(102,102,102)"/>
<rect x="383.70" y="129.40" width="9.60" height="2.60" rx="0.90" fill="rgb(178,178,178)"/>
<rect x="394.60" y="129.40" width="9.60" height="2.60" rx="0.90" fill="rgb(13,13,13)"/>
<rect x="405.50" y="129.40" width="9.60" height="2.60" rx="0.90" fill="rgb(128,128,128)"/>
<rect x="416.40" y="129.40" width="9.60" height="2.60" rx="0.90" fill="rgb(166,166,166)"/>
<rect x="427.30" y="129.40" width="9.60" height="2.60" rx="0.90" fill="rgb(178,178,178)"/>
<rect x="438.20" y="129.40" width="9.60" height="2.60" rx="0.90" fill="rgb(153,153,153)"/>
<rect x="449.10" y="129.40" width="9.60" height="2.60" rx="0.90" fill="rgb(115,115,115)"/>
<rect x="460.00" y="129.40" width="9.60" height="2.60" rx="0.90" fill="rgb(242,242,242)"/>
<rect x="470.90" y="129.40" width="9.60" height="2.60" rx="0.90" fill="rgb(166,166,166)"/>
<rect x="481.80" y="129.40" width="9.60" height="2.60" rx="0.90" fill="rgb(166,166,166)"/>
<rect x="492.70" y="129.40" width="9.60" height="2.60" rx="0.90" fill="rgb(140,140,140)"/>
<rect x="350.60" y="138.70" width="10.40" height="2.40" rx="0.90" fill="rgb(77,77,77)"/>
<rect x="361.50" y="138.70" width="10.40" height="2.40" rx="0.90" fill="rgb(77,77,77)"/>
<rect x="372.40" y="138.70" width="10.40" height="2.40" rx="0.90" fill="rgb(77,77,77)"/>
<rect x="383.30" y="138.70" width="10.40" height="2.40" rx="0.90" fill="rgb(77,77,77)"/>
<rect x="394.20" y="138.70" width="10.40" height="2.40" rx="0.90" fill="rgb(77,77,77)"/>
<rect x="405.10" y="138.70" width="10.40" height="2.40" rx="0.90" fill="rgb(77,77,77)"/>
<rect x="416.00" y="138.70" width="10.40" height="2.40" rx="0.90" fill="rgb(77,77,77)"/>
<rect x="426.90" y="138.70" width="10.40" height="2.40" rx="0.90" fill="rgb(77,77,77)"/>
<rect x="437.80" y="138.70" width="10.40" height="2.40" rx="0.90" fill="rgb(77,77,77)"/>
<rect x="448.70" y="138.70" width="10.40" height="2.40" rx="0.90" fill="rgb(77,77,77)"/>
<rect x="459.60" y="138.70" width="10.40" height="2.40" rx="0.90" fill="rgb(77,77,77)"/>
<rect x="470.50" y="138.70" width="10.40" height="2.40" rx="0.90" fill="rgb(77,77,77)"/>
<rect x="481.40" y="138.70" width="10.40" height="2.40" rx="0.90" fill="rgb(77,77,77)"/>
<rect x="492.30" y="138.70" width="10.40" height="2.40" rx="0.90" fill="rgb(77,77,77)"/>
<rect x="350.70" y="151.40" width="9.40" height="2.20" rx="0.90" fill="rgb(158,158,158)"/>
<rect x="350.70" y="154.20" width="9.40" height="2.20" rx="0.90" fill="rgb(158,158,158)"/>
<rect x="362.46" y="151.40" width="9.40" height="2.20" rx="0.90" fill="rgb(199,199,199)"/>
<rect x="362.46" y="154.20" width="9.40" height="2.20" rx="0.90" fill="rgb(199,199,199)"/>
<rect x="374.22" y="151.40" width="9.40" height="2.20" rx="0.90" fill="rgb(128,128,128)"/>
<rect x="374.22" y="154.20" width="9.40" height="2.20" rx="0.90" fill="rgb(128,128,128)"/>
<rect x="385.98" y="151.40" width="9.40" height="2.20" rx="0.90" fill="rgb(38,38,38)"/>
<rect x="385.98" y="154.20" width="9.40" height="2.20" rx="0.90" fill="rgb(38,38,38)"/>
<rect x="397.74" y="151.40" width="9.40" height="2.20" rx="0.90" fill="rgb(8,8,8)"/>
<rect x="397.74" y="154.20" width="9.40" height="2.20" rx="0.90" fill="rgb(8,8,8)"/>
<rect x="409.50" y="151.40" width="9.40" height="2.20" rx="0.90" fill="rgb(89,89,89)"/>
<rect x="409.50" y="154.20" width="9.40" height="2.20" rx="0.90" fill="rgb(89,89,89)"/>
<rect x="421.26" y="151.40" width="9.40" height="2.20" rx="0.90" fill="rgb(31,31,31)"/>
<rect x="421.26" y="154.20" width="9.40" height="2.20" rx="0.90" fill="rgb(31,31,31)"/>
<rect x="433.02" y="151.40" width="9.40" height="2.20" rx="0.90" fill="rgb(31,31,31)"/>
<rect x="433.02" y="154.20" width="9.40" height="2.20" rx="0.90" fill="rgb(31,31,31)"/>
<rect x="444.78" y="151.40" width="9.40" height="2.20" rx="0.90" fill="rgb(8,8,8)"/>
<rect x="444.78" y="154.20" width="9.40" height="2.20" rx="0.90" fill="rgb(8,8,8)"/>
<rect x="456.54" y="151.40" width="9.40" height="2.20" rx="0.90" fill="rgb(25,25,25)"/>
<rect x="456.54" y="154.20" width="9.40" height="2.20" rx="0.90" fill="rgb(25,25,25)"/>
<rect x="468.30" y="151.40" width="9.40" height="2.20" rx="0.90" fill="rgb(25,25,25)"/>
<rect x="468.30" y="154.20" width="9.40" height="2.20" rx="0.90" fill="rgb(25,25,25)"/>
<rect x="480.06" y="151.40" width="9.40" height="2.20" rx="0.90" fill="rgb(89,89,89)"/>
<rect x="480.06" y="154.20" width="9.40" height="2.20" rx="0.90" fill="rgb(89,89,89)"/>
<rect x="491.82" y="151.40" width="9.40" height="2.20" rx="0.90" fill="rgb(115,115,115)"/>
<rect x="491.82" y="154.20" width="9.40" height="2.20" rx="0.90" fill="rgb(115,115,115)"/>
<rect x="351.30" y="161.10" width="9.00" height="3.00" rx="0.90" fill="rgb(115,115,115)"/>
<rect x="362.20" y="161.10" width="9.00" height="3.00" rx="0.90" fill="rgb(115,115,115)"/>
<rect x="373.10" y="161.10" width="9.00" height="3.00" rx="0.90" fill="rgb(115,115,115)"/>
<rect x="384.00" y="161.10" width="9.00" height="3.00" rx="0.90" fill="rgb(115,115,115)"/>
<rect x="394.90" y="161.10" width="9.00" height="3.00" rx="0.90" fill="rgb(115,115,115)"/>
<rect x="405.80" y="161.10" width="9.00" height="3.00" rx="0.90" fill="rgb(115,115,115)"/>
<rect x="416.70" y="161.10" width="9.00" height="3.00" rx="0.90" fill="rgb(115,115,115)"/>
<rect x="427.60" y="161.10" width="9.00" height="3.00" rx="0.90" fill="rgb(115,115,115)"/>
<rect x="438.50" y="161.10" width="9.00" height="3.00" rx="0.90" fill="rgb(148,148,148)"/>
<rect x="449.40" y="161.10" width="9.00" height="3.00" rx="0.90" fill="rgb(148,148,148)"/>
<rect x="460.30" y="161.10" width="9.00" height="3.00" rx="0.90" fill="rgb(148,148,148)"/>
<rect x="471.20" y="161.10" width="9.00" height="3.00" rx="0.90" fill="rgb(148,148,148)"/>
<rect x="482.10" y="161.10" width="9.00" height="3.00" rx="0.90" fill="rgb(148,148,148)"/>
<rect x="493.00" y="161.10" width="9.00" height="3.00" rx="0.90" fill="rgb(148,148,148)"/>
</g>
<text x="248.40" y="194.70" font-size="12.9" font-weight="bold" >D</text>
<text x="341.00" y="223.30" font-size="8.8" class="h" text-anchor="end" textLength="70.40" lengthAdjust="spacingAndGlyphs" fill="#1a1a1a" >PF-04217903 dose</text>
<text x="341.00" y="233.20" font-size="8.8" class="h" text-anchor="end" textLength="29.52" lengthAdjust="spacingAndGlyphs" fill="#1a1a1a" >mg/kg/d</text>
<line x1="311.50" y1="234.40" x2="341.00" y2="234.40" stroke="#444" stroke-width="0.7" />
<text x="357.00" y="230.80" font-size="9.6" font-weight="bold" text-anchor="middle" textLength="5.07" lengthAdjust="spacingAndGlyphs" >0</text>
<line x1="346.40" y1="233.80" x2="368.90" y2="233.80" stroke="#000" stroke-width="1.6" />
<text x="391.70" y="230.80" font-size="9.6" font-weight="bold" text-anchor="middle" textLength="5.07" lengthAdjust="spacingAndGlyphs" >5</text>
<line x1="378.10" y1="233.80" x2="405.30" y2="233.80" stroke="#000" stroke-width="1.6" />
<text x="427.80" y="230.80" font-size="9.6" font-weight="bold" text-anchor="middle" textLength="10.14" lengthAdjust="spacingAndGlyphs" >15</text>
<line x1="414.60" y1="233.80" x2="443.10" y2="233.80" stroke="#000" stroke-width="1.6" />
<text x="460.20" y="230.80" font-size="9.6" font-weight="bold" text-anchor="middle" textLength="10.14" lengthAdjust="spacingAndGlyphs" >50</text>
<line x1="448.90" y1="233.80" x2="470.30" y2="233.80" stroke="#000" stroke-width="1.6" />
<text x="341.00" y="244.60" font-size="8.8" class="h" text-anchor="end" textLength="58.58" lengthAdjust="spacingAndGlyphs" fill="#1a1a1a" >Phospho-EGFR</text>
<text x="341.00" y="254.20" font-size="8.8" class="h" text-anchor="end" textLength="42.89" lengthAdjust="spacingAndGlyphs" fill="#1a1a1a" >Total EGFR</text>
<text x="341.00" y="267.10" font-size="8.8" class="h" text-anchor="end" textLength="69.35" lengthAdjust="spacingAndGlyphs" fill="#1a1a1a" >Phospho-PDGFRβ</text>
<text x="341.00" y="277.30" font-size="8.8" class="h" text-anchor="end" textLength="53.66" lengthAdjust="spacingAndGlyphs" fill="#1a1a1a" >Total PDGFRβ</text>
<text x="341.00" y="290.40" font-size="8.8" class="h" text-anchor="end" textLength="29.52" lengthAdjust="spacingAndGlyphs" fill="#1a1a1a" >GAPDH</text>
<g filter="url(#bl)">
<rect x="345.80" y="237.70" width="7.40" height="2.60" rx="0.90" fill="rgb(13,13,13)"/>
<rect x="355.70" y="237.70" width="7.40" height="2.60" rx="0.90" fill="rgb(51,51,51)"/>
<rect x="365.60" y="237.70" width="7.40" height="2.60" rx="0.90" fill="rgb(13,13,13)"/>
<rect x="374.50" y="237.70" width="7.40" height="2.60" rx="0.90" fill="rgb(38,38,38)"/>
<rect x="384.30" y="237.70" width="7.40" height="2.60" rx="0.90" fill="rgb(64,64,64)"/>
<rect x="393.40" y="237.70" width="7.40" height="2.60" rx="0.90" fill="rgb(102,102,102)"/>
<rect x="402.20" y="237.70" width="7.40" height="2.60" rx="0.90" fill="rgb(64,64,64)"/>
<rect x="411.50" y="237.70" width="7.40" height="2.60" rx="0.90" fill="rgb(25,25,25)"/>
<rect x="420.40" y="237.70" width="7.40" height="2.60" rx="0.90" fill="rgb(51,51,51)"/>
<rect x="428.90" y="237.70" width="7.40" height="2.60" rx="0.90" fill="rgb(102,102,102)"/>
<rect x="437.50" y="237.70" width="7.40" height="2.60" rx="0.90" fill="rgb(102,102,102)"/>
<rect x="446.50" y="237.70" width="7.40" height="2.60" rx="0.90" fill="rgb(128,128,128)"/>
<rect x="455.30" y="237.70" width="7.40" height="2.60" rx="0.90" fill="rgb(153,153,153)"/>
<rect x="464.40" y="237.70" width="7.40" height="2.60" rx="0.90" fill="rgb(166,166,166)"/>
<path d="M346.30,240.20L352.70,240.2L349.50,242.40Z" fill="rgb(61,61,61)"/>
<path d="M356.20,240.20L362.60,240.2L359.40,242.40Z" fill="rgb(91,91,91)"/>
<path d="M366.10,240.20L372.50,240.2L369.30,242.40Z" fill="rgb(61,61,61)"/>
<path d="M375.00,240.20L381.40,240.2L378.20,242.40Z" fill="rgb(81,81,81)"/>
<path d="M384.80,240.20L391.20,240.2L388.00,242.40Z" fill="rgb(101,101,101)"/>
<path d="M393.90,240.20L400.30,240.2L397.10,242.40Z" fill="rgb(132,132,132)"/>
<path d="M402.70,240.20L409.10,240.2L405.90,242.40Z" fill="rgb(101,101,101)"/>
<path d="M412.00,240.20L418.40,240.2L415.20,242.40Z" fill="rgb(71,71,71)"/>
<path d="M420.90,240.20L427.30,240.2L424.10,242.40Z" fill="rgb(91,91,91)"/>
<path d="M429.40,240.20L435.80,240.2L432.60,242.40Z" fill="rgb(132,132,132)"/>
<path d="M438.00,240.20L444.40,240.2L441.20,242.40Z" fill="rgb(132,132,132)"/>
<path d="M447.00,240.20L453.40,240.2L450.20,242.40Z" fill="rgb(153,153,153)"/>
<path d="M455.80,240.20L462.20,240.2L459.00,242.40Z" fill="rgb(173,173,173)"/>
<path d="M464.90,240.20L471.30,240.2L468.10,242.40Z" fill="rgb(183,183,183)"/>
<rect x="345.40" y="248.10" width="8.20" height="5.00" rx="0.90" fill="rgb(0,0,0)"/>
<rect x="355.30" y="248.10" width="8.20" height="5.00" rx="0.90" fill="rgb(13,13,13)"/>
<rect x="365.20" y="248.10" width="8.20" height="5.00" rx="0.90" fill="rgb(13,13,13)"/>
<rect x="374.10" y="248.10" width="8.20" height="5.00" rx="0.90" fill="rgb(8,8,8)"/>
<rect x="383.90" y="248.10" width="8.20" height="5.00" rx="0.90" fill="rgb(20,20,20)"/>
<rect x="393.00" y="248.10" width="8.20" height="5.00" rx="0.90" fill="rgb(38,38,38)"/>
<rect x="401.80" y="248.10" width="8.20" height="5.00" rx="0.90" fill="rgb(8,8,8)"/>
<rect x="411.10" y="248.10" width="8.20" height="5.00" rx="0.90" fill="rgb(8,8,8)"/>
<rect x="420.00" y="248.10" width="8.20" height="5.00" rx="0.90" fill="rgb(25,25,25)"/>
<rect x="428.50" y="248.10" width="8.20" height="5.00" rx="0.90" fill="rgb(38,38,38)"/>
<rect x="437.10" y="248.10" width="8.20" height="5.00" rx="0.90" fill="rgb(20,20,20)"/>
<rect x="446.10" y="248.10" width="8.20" height="5.00" rx="0.90" fill="rgb(38,38,38)"/>
<rect x="454.90" y="248.10" width="8.20" height="5.00" rx="0.90" fill="rgb(191,191,191)"/>
<rect x="464.00" y="248.10" width="8.20" height="5.00" rx="0.90" fill="rgb(140,140,140)"/>
<rect x="345.60" y="261.00" width="7.80" height="2.80" rx="0.90" fill="rgb(204,204,204)"/>
<rect x="355.50" y="261.00" width="7.80" height="2.80" rx="0.90" fill="rgb(204,204,204)"/>
<rect x="365.40" y="261.00" width="7.80" height="2.80" rx="0.90" fill="rgb(204,204,204)"/>
<rect x="374.30" y="260.97" width="7.80" height="2.86" rx="0.90" fill="rgb(199,199,199)"/>
<rect x="384.10" y="260.10" width="7.80" height="4.60" rx="0.90" fill="rgb(51,51,51)"/>
<rect x="393.20" y="260.10" width="7.80" height="4.60" rx="0.90" fill="rgb(51,51,51)"/>
<rect x="402.00" y="260.62" width="7.80" height="3.55" rx="0.90" fill="rgb(140,140,140)"/>
<rect x="411.30" y="260.40" width="7.80" height="4.00" rx="0.90" fill="rgb(102,102,102)"/>
<rect x="420.20" y="260.07" width="7.80" height="4.66" rx="0.90" fill="rgb(46,46,46)"/>
<rect x="428.70" y="259.88" width="7.80" height="5.05" rx="0.90" fill="rgb(13,13,13)"/>
<rect x="437.30" y="260.02" width="7.80" height="4.75" rx="0.90" fill="rgb(38,38,38)"/>
<rect x="446.30" y="260.02" width="7.80" height="4.75" rx="0.90" fill="rgb(38,38,38)"/>
<rect x="455.10" y="259.84" width="7.80" height="5.11" rx="0.90" fill="rgb(8,8,8)"/>
<rect x="464.20" y="259.98" width="7.80" height="4.84" rx="0.90" fill="rgb(31,31,31)"/>
<rect x="345.20" y="273.40" width="8.60" height="5.00" rx="0.90" fill="rgb(8,8,8)"/>
<rect x="355.10" y="273.40" width="8.60" height="5.00" rx="0.90" fill="rgb(8,8,8)"/>
<rect x="365.00" y="273.40" width="8.60" height="5.00" rx="0.90" fill="rgb(8,8,8)"/>
<rect x="373.90" y="273.40" width="8.60" height="5.00" rx="0.90" fill="rgb(8,8,8)"/>
<rect x="383.70" y="273.40" width="8.60" height="5.00" rx="0.90" fill="rgb(8,8,8)"/>
<rect x="392.80" y="273.40" width="8.60" height="5.00" rx="0.90" fill="rgb(8,8,8)"/>
<rect x="401.60" y="273.40" width="8.60" height="5.00" rx="0.90" fill="rgb(8,8,8)"/>
<rect x="410.90" y="273.40" width="8.60" height="5.00" rx="0.90" fill="rgb(8,8,8)"/>
<rect x="419.80" y="273.40" width="8.60" height="5.00" rx="0.90" fill="rgb(8,8,8)"/>
<rect x="428.30" y="273.40" width="8.60" height="5.00" rx="0.90" fill="rgb(8,8,8)"/>
<rect x="436.90" y="273.40" width="8.60" height="5.00" rx="0.90" fill="rgb(8,8,8)"/>
<rect x="445.90" y="273.40" width="8.60" height="5.00" rx="0.90" fill="rgb(8,8,8)"/>
<rect x="454.70" y="273.40" width="8.60" height="5.00" rx="0.90" fill="rgb(8,8,8)"/>
<rect x="463.80" y="273.40" width="8.60" height="5.00" rx="0.90" fill="rgb(8,8,8)"/>
<rect x="345.90" y="284.70" width="7.20" height="2.60" rx="0.90" fill="rgb(158,158,158)"/>
<rect x="355.80" y="284.70" width="7.20" height="2.60" rx="0.90" fill="rgb(158,158,158)"/>
<rect x="365.70" y="284.70" width="7.20" height="2.60" rx="0.90" fill="rgb(158,158,158)"/>
<rect x="374.60" y="284.70" width="7.20" height="2.60" rx="0.90" fill="rgb(158,158,158)"/>
<rect x="384.40" y="284.70" width="7.20" height="2.60" rx="0.90" fill="rgb(158,158,158)"/>
<rect x="393.50" y="284.70" width="7.20" height="2.60" rx="0.90" fill="rgb(158,158,158)"/>
<rect x="402.30" y="284.70" width="7.20" height="2.60" rx="0.90" fill="rgb(158,158,158)"/>
<rect x="411.60" y="284.70" width="7.20" height="2.60" rx="0.90" fill="rgb(158,158,158)"/>
<rect x="420.50" y="284.70" width="7.20" height="2.60" rx="0.90" fill="rgb(158,158,158)"/>
<rect x="429.00" y="284.70" width="7.20" height="2.60" rx="0.90" fill="rgb(158,158,158)"/>
<rect x="437.60" y="284.70" width="7.20" height="2.60" rx="0.90" fill="rgb(158,158,158)"/>
<rect x="446.60" y="284.70" width="7.20" height="2.60" rx="0.90" fill="rgb(158,158,158)"/>
<rect x="455.40" y="284.70" width="7.20" height="2.60" rx="0.90" fill="rgb(158,158,158)"/>
<rect x="464.50" y="284.70" width="7.20" height="2.60" rx="0.90" fill="rgb(158,158,158)"/>
<rect x="345.90" y="287.60" width="7.20" height="2.60" rx="0.90" fill="rgb(97,97,97)"/>
<rect x="355.80" y="287.60" width="7.20" height="2.60" rx="0.90" fill="rgb(97,97,97)"/>
<rect x="365.70" y="287.60" width="7.20" height="2.60" rx="0.90" fill="rgb(97,97,97)"/>
<rect x="374.60" y="287.60" width="7.20" height="2.60" rx="0.90" fill="rgb(97,97,97)"/>
<rect x="384.40" y="287.60" width="7.20" height="2.60" rx="0.90" fill="rgb(97,97,97)"/>
<rect x="393.50" y="287.60" width="7.20" height="2.60" rx="0.90" fill="rgb(97,97,97)"/>
<rect x="402.30" y="287.60" width="7.20" height="2.60" rx="0.90" fill="rgb(97,97,97)"/>
<rect x="411.60" y="287.60" width="7.20" height="2.60" rx="0.90" fill="rgb(97,97,97)"/>
<rect x="420.50" y="287.60" width="7.20" height="2.60" rx="0.90" fill="rgb(97,97,97)"/>
<rect x="429.00" y="287.60" width="7.20" height="2.60" rx="0.90" fill="rgb(97,97,97)"/>
<rect x="437.60" y="287.60" width="7.20" height="2.60" rx="0.90" fill="rgb(97,97,97)"/>
<rect x="446.60" y="287.60" width="7.20" height="2.60" rx="0.90" fill="rgb(97,97,97)"/>
<rect x="455.40" y="287.60" width="7.20" height="2.60" rx="0.90" fill="rgb(97,97,97)"/>
<rect x="464.50" y="287.60" width="7.20" height="2.60" rx="0.90" fill="rgb(97,97,97)"/>
</g>
<rect x="0" y="0" width="520" height="1" fill="#5b5b5b"/>
<rect x="0" y="0" width="1" height="327" fill="#555"/>
<rect x="519" y="0" width="1" height="327" fill="#707070"/>
<rect x="518" y="0" width="1" height="327" fill="#c0c0c0"/>
<rect x="0" y="326" width="520" height="1" fill="#666"/>
<rect x="0" y="325" width="520" height="1" fill="#aaa"/>
</svg>
</body></html>
